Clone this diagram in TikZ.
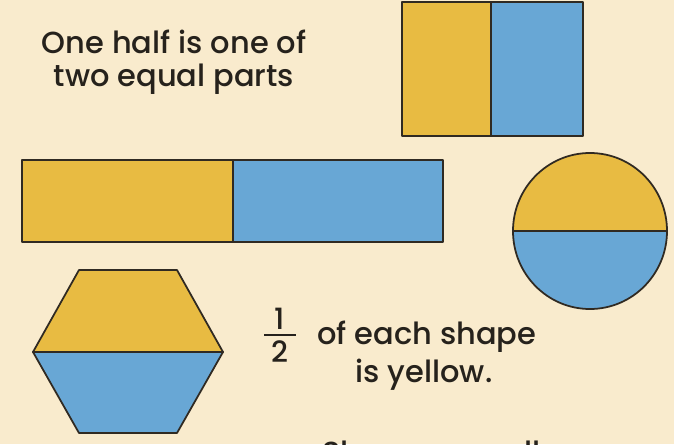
\documentclass[tikz,border=0pt]{standalone}
\usepackage{fontspec}
\setmainfont{Poppins}[UprightFont={Poppins Medium}]
\usetikzlibrary{positioning}
\definecolor{paper}{RGB}{249,235,205}
\definecolor{halfyellow}{RGB}{232,187,66}
\definecolor{halfblue}{RGB}{104,167,213}
\definecolor{outline}{RGB}{48,42,34}
\definecolor{ink}{RGB}{38,34,28}

\begin{document}
\begin{tikzpicture}[
  x=0.03cm, y=-0.03cm,
  yel/.style={fill=halfyellow, draw=outline, line width=1.5pt, line join=round},
  blu/.style={fill=halfblue, draw=outline, line width=1.5pt, line join=round},
  caption/.style={text=ink, font=\fontsize{26}{28}\selectfont, align=center, inner sep=0pt},
  digit/.style={text=ink, font=\fontsize{25}{25}\selectfont, inner sep=0pt}
]
\fill[paper] (0,0) rectangle (674,444);
\useasboundingbox (0,0) rectangle (674,444);
% square cut in two
\draw[yel] (402,2) rectangle (491,136);
\draw[blu] (491,2) rectangle (583,136);
% long bar
\draw[yel] (22,160) rectangle (233,242);
\draw[blu] (233,160) rectangle (443,242);
% circle
\draw[yel] (513,231) arc[start angle=180, end angle=360, x radius=77, y radius=78] -- cycle;
\draw[blu] (667,231) arc[start angle=0, end angle=180, x radius=77, y radius=78] -- cycle;
% hexagon
\draw[yel] (33,352) -- (79,270) -- (177,270) -- (223,352) -- cycle;
\draw[blu] (33,352) -- (223,352) -- (177,433) -- (79,433) -- cycle;
% texts
\node[caption] (intro) at (174,62) {One half is one of\\two equal parts};
\node[digit] (num) at (280,319) {1};
\node[digit] (den) at (280,352) {2};
\draw[ink, line width=1.1pt] (264,335) -- (296,335);
\node[caption, anchor=west] (each) at (317,337) {of each shape};
\node[caption] (yellow) at (424,375) {is yellow.};
\begin{scope}
  \clip (0,0) rectangle (674,444);
  \node[caption, anchor=north west] (shapes) at (322,441) {Shapes are all};
\end{scope}
\end{tikzpicture}
\end{document}
